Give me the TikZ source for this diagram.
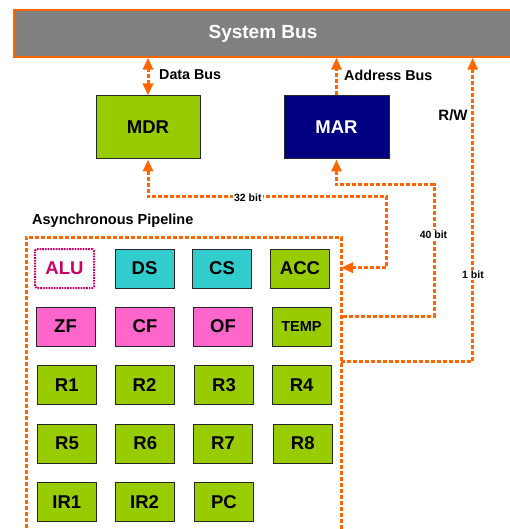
\documentclass[tikz,border=0pt]{standalone}
\usepackage{fontspec}
\setmainfont{Liberation Sans}
\usetikzlibrary{arrows.meta}
\definecolor{busor}{RGB}{255,102,0}
\definecolor{busgray}{RGB}{128,128,128}
\definecolor{regg}{RGB}{153,204,0}
\definecolor{regc}{RGB}{51,204,204}
\definecolor{regp}{RGB}{255,102,204}
\definecolor{regm}{RGB}{204,0,102}
\definecolor{navyb}{RGB}{0,0,128}
\tikzset{
  reg/.style={draw=black!85, line width=1pt, minimum width=59pt, minimum height=39pt, inner sep=0pt,
    font=\fontsize{18.5}{20}\selectfont\bfseries},
  gr/.style={reg, fill=regg},
  cy/.style={reg, fill=regc},
  pk/.style={reg, fill=regp},
  bus/.style={draw=busor, line width=3pt, dash pattern=on 4pt off 2pt},
  tipb/.tip={Triangle[length=12pt,width=10pt]},
  lbl/.style={font=\fontsize{14.3}{16}\selectfont\bfseries, inner sep=0pt},
  bitl/.style={font=\fontsize{10.5}{12}\selectfont\bfseries, fill=white, inner sep=1pt}
}
\begin{document}
\begin{tikzpicture}[x=1pt,y=-1pt]
\clip (0,0) rectangle (510,529);
\fill[white] (0,0) rectangle (510,529);
% system bus
\node[draw=busor, line width=1.4pt, fill=busgray, minimum width=498pt, minimum height=47pt, inner sep=0pt,
  text=white, font=\fontsize{19}{21}\selectfont\bfseries] (sysbus) at (263,33.5) {System Bus};
% MDR / MAR
\node[reg, fill=regg, minimum width=104pt, minimum height=63pt] (mdr) at (148,127.5) {MDR};
\node[reg, fill=navyb, text=white, minimum width=105pt, minimum height=63pt] (mar) at (336.5,127.5) {MAR};
% bus labels
\node[lbl, anchor=west] (dbl) at (159,75) {Data Bus};
\node[lbl, anchor=west] (abl) at (344,75) {Address Bus};
\node[lbl, font=\fontsize{15}{17}\selectfont\bfseries] (rwl) at (453,115) {R/W};
\node[lbl, anchor=west, font=\fontsize{14.5}{16}\selectfont\bfseries] (apl) at (32,220.5) {Asynchronous Pipeline};
% pipeline frame
\coordinate (fbl) at (26,540);
\coordinate (ftl) at (26,237);
\coordinate (ftr) at (341,237);
\coordinate (fbr) at (341,540);
\draw[bus] (fbl) -- (ftl) -- (ftr) -- (fbr);
% registers
\node[reg, fill=white, draw=regm, text=regm, line width=2pt, dash pattern=on 1.7pt off 1pt, rounded corners=1.5pt] (alu) at (64.5,268.5) {ALU};
\node[cy] (ds) at (144.5,268.5) {DS};
\node[cy] (cs) at (222,268.5) {CS};
\node[gr] (acc) at (300,268.5) {ACC};
\node[pk] (zf) at (65.5,326.5) {ZF};
\node[pk] (cf) at (145,326.5) {CF};
\node[pk] (of) at (223,326.5) {OF};
\node[gr, font=\fontsize{14.5}{16}\selectfont\bfseries] (temp) at (301.5,326.5) {TEMP};
\node[gr] (r1) at (66.8,385) {R1};
\node[gr] (r2) at (144.5,385) {R2};
\node[gr] (r3) at (224,385) {R3};
\node[gr] (r4) at (301.7,385) {R4};
\node[gr] (r5) at (67,443.5) {R5};
\node[gr] (r6) at (145.3,443.5) {R6};
\node[gr] (r7) at (223,443.5) {R7};
\node[gr] (r8) at (302.8,443.5) {R8};
\node[gr] (ir1) at (66.8,502) {IR1};
\node[gr] (ir2) at (144.5,502) {IR2};
\node[gr] (pc) at (224,502) {PC};
% connectors
\draw[bus, {tipb}-{tipb}] (mdr.north) -- (mdr.north |- sysbus.south);
\draw[bus, -{tipb}] (mar.north) -- (mar.north |- sysbus.south);
\coordinate (k32) at (386.7,197);
\coordinate (f32) at (341,267.7);
\draw[bus, {tipb}-{tipb}] (mdr.south) |- (k32) |- (f32);
\coordinate (k40) at (434,185);
\coordinate (f40) at (341,316);
\draw[bus, {tipb}-] (mar.south) |- (k40) |- (f40);
\coordinate (k1) at (472.7,361);
\coordinate (f1) at (341,361);
\draw[bus, -{tipb}] (f1) -- (k1) -- (k1 |- sysbus.south);
\node[bitl] (b32) at (247.8,197.5) {32 bit};
\node[bitl] (b40) at (433.5,235) {40 bit};
\node[bitl] (b1) at (473,275) {1 bit};
\end{tikzpicture}
\end{document}
